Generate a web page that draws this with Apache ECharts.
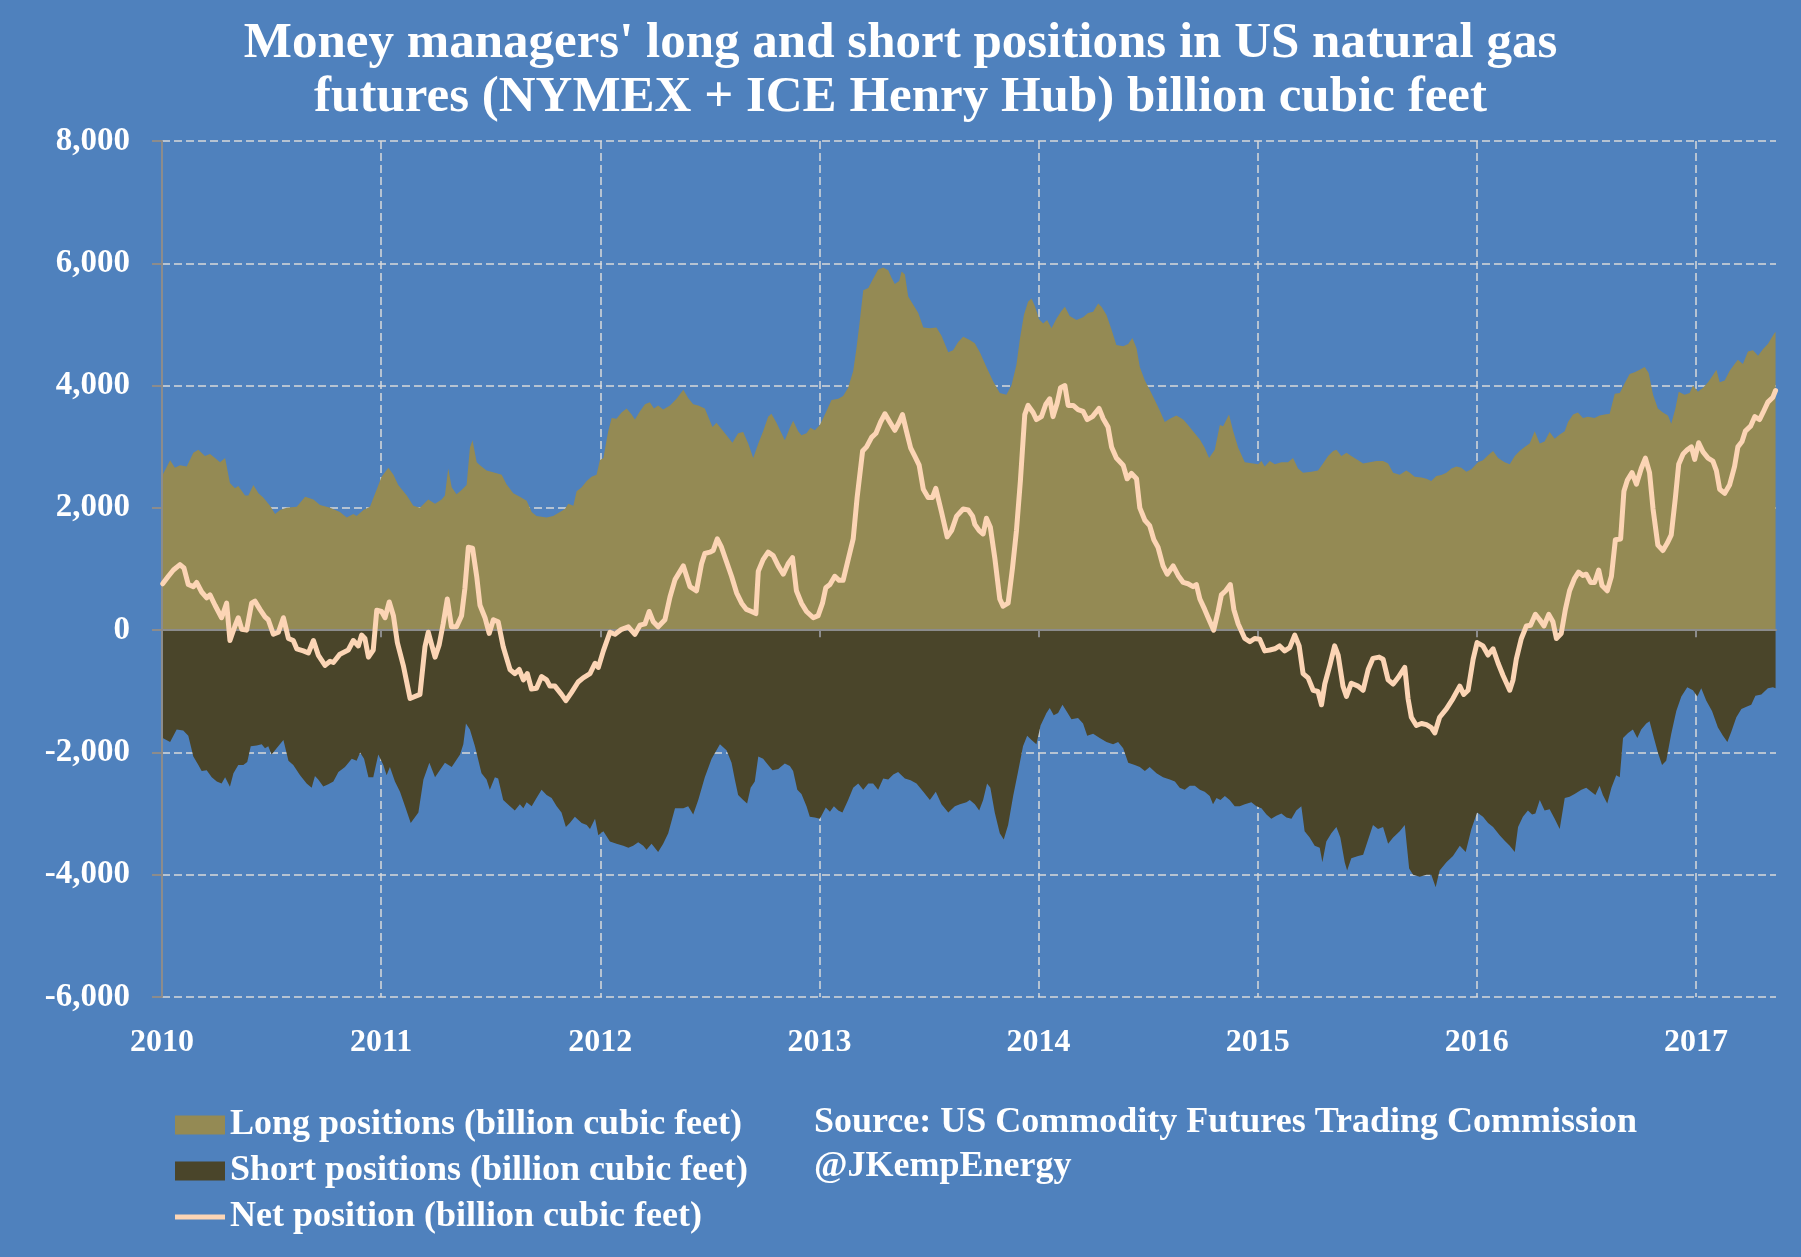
<!DOCTYPE html>
<html>
<head>
<meta charset="utf-8">
<script src="https://cdn.jsdelivr.net/npm/echarts@6/dist/echarts.min.js"></script>
<style>
html,body{margin:0;padding:0;background:#4F81BD;}
#chart{width:1801px;height:1257px;}
</style>
</head>
<body>
<div id="chart"></div>
<script>
const titleLines = [
  "Money managers' long and short positions in US natural gas",
  "futures (NYMEX + ICE Henry Hub) billion cubic feet"
];
const sourceLines = [
  "Source: US Commodity Futures Trading Commission",
  "@JKempEnergy"
];
const seriesNames = [
  "Long positions (billion cubic feet)",
  "Short positions (billion cubic feet)",
  "Net position (billion cubic feet)"
];
const yearTicks = [2010, 2011, 2012, 2013, 2014, 2015, 2016, 2017];
const yearTickLines = [2011, 2012, 2013, 2014, 2015, 2016, 2017];

const longPositions = [
[2010.003,2543],[2010.037,2780],[2010.059,2658],[2010.082,2698],[2010.113,2678],[2010.143,2902],[2010.166,2949],[2010.196,2848],[2010.219,2882],[2010.242,2814],[2010.265,2746],[2010.288,2814],[2010.310,2407],[2010.333,2319],[2010.348,2359],[2010.379,2204],[2010.394,2204],[2010.417,2373],[2010.440,2237],[2010.462,2170],[2010.493,2034],[2010.516,1898],[2010.539,1966],[2010.569,2000],[2010.615,2020],[2010.653,2183],[2010.691,2136],[2010.721,2048],[2010.767,2000],[2010.812,1932],[2010.843,1844],[2010.873,1898],[2010.888,1865],[2010.919,1966],[2010.949,2020],[2010.980,2305],[2011.002,2509],[2011.033,2658],[2011.056,2543],[2011.078,2373],[2011.117,2204],[2011.147,2034],[2011.177,2000],[2011.215,2136],[2011.246,2068],
[2011.276,2136],[2011.291,2204],[2011.306,2644],[2011.322,2339],[2011.344,2224],[2011.367,2292],[2011.390,2373],[2011.405,2983],[2011.417,3105],[2011.436,2746],[2011.451,2698],[2011.481,2610],[2011.519,2576],[2011.550,2543],[2011.572,2387],[2011.603,2237],[2011.633,2183],[2011.664,2115],[2011.687,1932],[2011.709,1865],[2011.755,1844],[2011.785,1865],[2011.816,1932],[2011.839,1980],[2011.854,2068],[2011.877,2034],[2011.892,2271],[2011.915,2339],[2011.938,2441],[2011.960,2509],[2011.983,2543],[2011.998,2780],[2012.014,2814],[2012.036,3254],[2012.052,3471],[2012.074,3458],[2012.097,3560],[2012.120,3627],[2012.143,3526],[2012.158,3444],[2012.181,3580],[2012.204,3695],[2012.226,3729],[2012.245,3627],[2012.264,3675],[2012.287,3607],[2012.318,3675],[2012.348,3783],[2012.379,3932],[2012.401,3797],[2012.424,3695],[2012.447,3675],[2012.477,3627],
[2012.512,3322],[2012.530,3390],[2012.553,3288],[2012.576,3187],[2012.603,3065],[2012.629,3221],[2012.652,3241],[2012.675,3051],[2012.698,2814],[2012.721,3051],[2012.743,3254],[2012.766,3492],[2012.781,3539],[2012.804,3390],[2012.842,3105],[2012.865,3309],[2012.880,3424],[2012.903,3254],[2012.918,3187],[2012.941,3221],[2012.959,3309],[2012.979,3268],[2013.002,3356],[2013.025,3526],[2013.055,3763],[2013.086,3783],[2013.108,3831],[2013.131,3966],[2013.154,4238],[2013.169,4610],[2013.185,5085],[2013.200,5560],[2013.223,5594],[2013.245,5749],[2013.268,5899],[2013.291,5933],[2013.314,5885],[2013.329,5763],[2013.344,5661],[2013.364,5709],[2013.375,5865],[2013.390,5817],[2013.405,5458],[2013.428,5322],[2013.451,5187],[2013.474,4949],[2013.504,4936],[2013.534,4949],[2013.557,4814],[2013.588,4543],[2013.610,4577],[2013.633,4712],[2013.656,4800],[2013.686,4746],[2013.709,4692],
[2013.732,4543],[2013.762,4305],[2013.793,4068],[2013.823,3878],[2013.853,3851],[2013.876,4000],[2013.899,4339],[2013.914,4746],[2013.933,5153],[2013.952,5370],[2013.968,5424],[2013.983,5302],[2014.002,5085],[2014.021,5017],[2014.039,5071],[2014.059,4936],[2014.082,5099],[2014.104,5221],[2014.120,5288],[2014.142,5139],[2014.173,5071],[2014.203,5119],[2014.226,5187],[2014.249,5207],[2014.272,5343],[2014.287,5288],[2014.310,5153],[2014.333,4915],[2014.355,4665],[2014.386,4644],[2014.409,4678],[2014.428,4780],[2014.447,4610],[2014.462,4305],[2014.485,4082],[2014.507,3932],[2014.530,3763],[2014.553,3593],[2014.576,3404],[2014.599,3458],[2014.629,3512],[2014.660,3444],[2014.682,3356],[2014.705,3254],[2014.736,3119],[2014.758,2983],[2014.778,2814],[2014.804,2949],[2014.827,3356],[2014.842,3336],[2014.869,3526],[2014.888,3254],[2014.911,2983],[2014.941,2746],
[2014.979,2726],[2015.002,2712],[2015.017,2766],[2015.032,2678],[2015.055,2766],[2015.078,2712],[2015.108,2746],[2015.138,2746],[2015.161,2814],[2015.184,2644],[2015.207,2576],[2015.245,2590],[2015.275,2610],[2015.298,2726],[2015.321,2848],[2015.344,2929],[2015.359,2949],[2015.382,2848],[2015.405,2902],[2015.427,2848],[2015.458,2780],[2015.481,2726],[2015.511,2746],[2015.542,2766],[2015.572,2766],[2015.595,2726],[2015.618,2576],[2015.648,2543],[2015.678,2610],[2015.694,2576],[2015.716,2509],[2015.747,2495],[2015.770,2475],[2015.792,2441],[2015.815,2522],[2015.838,2536],[2015.861,2576],[2015.884,2644],[2015.907,2678],[2015.929,2658],[2015.952,2590],[2015.975,2631],[2016.005,2746],[2016.028,2780],[2016.051,2861],[2016.074,2929],[2016.097,2814],[2016.127,2746],[2016.150,2712],[2016.173,2848],
[2016.195,2929],[2016.218,2997],[2016.241,3051],[2016.264,3254],[2016.287,3051],[2016.309,3085],[2016.332,3241],[2016.355,3132],[2016.378,3200],[2016.401,3254],[2016.416,3404],[2016.439,3526],[2016.461,3560],[2016.484,3471],[2016.507,3492],[2016.537,3471],[2016.560,3512],[2016.583,3526],[2016.606,3539],[2016.629,3865],[2016.652,3878],[2016.674,4034],[2016.697,4190],[2016.720,4217],[2016.743,4258],[2016.766,4305],[2016.784,4204],[2016.804,3851],[2016.826,3627],[2016.849,3560],[2016.872,3512],[2016.887,3376],[2016.906,3627],[2016.921,3899],[2016.948,3851],[2016.971,3878],[2016.986,4000],[2017.009,3899],[2017.032,3966],[2017.055,4054],[2017.077,4170],[2017.093,4258],[2017.108,4054],[2017.131,4082],[2017.153,4238],[2017.176,4353],[2017.191,4421],[2017.214,4353],[2017.237,4556],[2017.260,4577],[2017.283,4488],[2017.306,4597],[2017.328,4678],[2017.356,4848],[2017.363,4882]
];

const shortPositions = [
[2010.003,-1763],[2010.037,-1831],[2010.067,-1627],[2010.097,-1641],[2010.120,-1729],[2010.143,-2068],[2010.166,-2204],[2010.181,-2305],[2010.204,-2292],[2010.227,-2407],[2010.250,-2475],[2010.272,-2509],[2010.288,-2407],[2010.310,-2563],[2010.326,-2339],[2010.348,-2204],[2010.371,-2204],[2010.389,-2156],[2010.405,-1898],[2010.432,-1885],[2010.455,-1865],[2010.470,-1932],[2010.485,-1898],[2010.500,-2034],[2010.523,-1932],[2010.554,-1797],[2010.577,-2136],[2010.599,-2204],[2010.630,-2373],[2010.660,-2509],[2010.683,-2576],[2010.698,-2387],[2010.713,-2441],[2010.736,-2556],[2010.759,-2522],[2010.782,-2475],[2010.805,-2319],[2010.835,-2237],[2010.866,-2102],[2010.888,-2136],[2010.904,-2000],[2010.922,-2102],[2010.942,-2407],[2010.964,-2407],[2010.987,-2034],[2011.010,-2204],[2011.025,-2373],[2011.040,-2237],[2011.063,-2475],[2011.086,-2644],[2011.109,-2882],[2011.135,-3153],[2011.170,-2983],[2011.193,-2441],[2011.220,-2170],[2011.246,-2407],
[2011.291,-2170],[2011.322,-2237],[2011.360,-2034],[2011.375,-1865],[2011.387,-1526],[2011.405,-1627],[2011.428,-1898],[2011.458,-2339],[2011.481,-2441],[2011.496,-2610],[2011.519,-2407],[2011.534,-2427],[2011.557,-2780],[2011.588,-2882],[2011.610,-2949],[2011.633,-2848],[2011.649,-2915],[2011.664,-2814],[2011.687,-2882],[2011.709,-2746],[2011.732,-2610],[2011.755,-2698],[2011.778,-2746],[2011.801,-2882],[2011.823,-2983],[2011.843,-3221],[2011.861,-3153],[2011.884,-3051],[2011.915,-3153],[2011.938,-3187],[2011.953,-3254],[2011.976,-3085],[2011.991,-3356],[2012.014,-3288],[2012.044,-3458],[2012.074,-3492],[2012.105,-3526],[2012.128,-3560],[2012.150,-3526],[2012.173,-3471],[2012.196,-3526],[2012.211,-3593],[2012.234,-3492],[2012.264,-3627],[2012.287,-3492],[2012.310,-3322],[2012.341,-2915],[2012.379,-2915],[2012.401,-2882],[2012.424,-3017],[2012.447,-2780],[2012.477,-2407],
[2012.508,-2102],[2012.546,-1865],[2012.576,-1966],[2012.599,-2170],[2012.614,-2441],[2012.629,-2698],[2012.652,-2780],[2012.670,-2834],[2012.686,-2576],[2012.705,-2475],[2012.721,-2068],[2012.743,-2102],[2012.766,-2204],[2012.786,-2292],[2012.812,-2271],[2012.842,-2183],[2012.865,-2224],[2012.880,-2305],[2012.899,-2610],[2012.918,-2678],[2012.941,-2882],[2012.956,-3051],[2012.979,-3065],[2013.002,-3085],[2013.029,-2902],[2013.048,-2970],[2013.066,-2882],[2013.086,-2949],[2013.105,-2983],[2013.131,-2780],[2013.154,-2576],[2013.177,-2509],[2013.200,-2610],[2013.223,-2509],[2013.245,-2509],[2013.268,-2610],[2013.291,-2427],[2013.314,-2441],[2013.337,-2359],[2013.359,-2319],[2013.390,-2427],[2013.416,-2454],[2013.443,-2509],[2013.474,-2644],[2013.504,-2780],[2013.531,-2644],[2013.557,-2848],[2013.588,-2983],[2013.618,-2882],[2013.641,-2848],[2013.671,-2814],[2013.686,-2780],[2013.709,-2848],
[2013.729,-2949],[2013.747,-2780],[2013.765,-2509],[2013.780,-2576],[2013.800,-2983],[2013.823,-3322],[2013.841,-3424],[2013.861,-3187],[2013.884,-2712],[2013.907,-2305],[2013.929,-1898],[2013.948,-1729],[2013.968,-1797],[2013.990,-1865],[2014.009,-1559],[2014.036,-1356],[2014.051,-1275],[2014.069,-1390],[2014.089,-1356],[2014.109,-1220],[2014.127,-1322],[2014.150,-1458],[2014.180,-1437],[2014.203,-1526],[2014.222,-1729],[2014.249,-1695],[2014.279,-1763],[2014.310,-1831],[2014.340,-1865],[2014.363,-1831],[2014.386,-1932],[2014.409,-2170],[2014.439,-2204],[2014.462,-2237],[2014.485,-2305],[2014.507,-2237],[2014.538,-2339],[2014.568,-2407],[2014.599,-2441],[2014.622,-2475],[2014.644,-2576],[2014.667,-2610],[2014.690,-2543],[2014.713,-2543],[2014.736,-2610],[2014.758,-2644],[2014.781,-2712],[2014.796,-2848],[2014.812,-2746],[2014.830,-2780],[2014.850,-2712],[2014.872,-2780],[2014.895,-2882],[2014.918,-2882],[2014.941,-2848],
[2014.971,-2814],[2014.994,-2882],[2015.017,-2915],[2015.040,-3017],[2015.062,-3085],[2015.085,-3037],[2015.108,-2997],[2015.131,-3065],[2015.154,-3085],[2015.176,-2949],[2015.199,-2882],[2015.214,-3288],[2015.237,-3390],[2015.260,-3526],[2015.283,-3560],[2015.295,-3797],[2015.313,-3458],[2015.336,-3322],[2015.359,-3221],[2015.377,-3390],[2015.397,-3797],[2015.408,-3932],[2015.427,-3729],[2015.458,-3695],[2015.481,-3675],[2015.504,-3424],[2015.526,-3187],[2015.549,-3254],[2015.572,-3221],[2015.595,-3492],[2015.618,-3390],[2015.648,-3288],[2015.671,-3187],[2015.691,-3899],[2015.709,-4000],[2015.739,-4034],[2015.770,-4000],[2015.792,-4000],[2015.812,-4204],[2015.830,-3932],[2015.861,-3797],[2015.891,-3695],[2015.922,-3526],[2015.949,-3627],[2015.975,-3254],[2016.001,-2983],[2016.028,-3051],[2016.051,-3153],[2016.074,-3221],[2016.104,-3356],[2016.127,-3444],[2016.150,-3526],[2016.173,-3627],
[2016.188,-3221],[2016.210,-3051],[2016.233,-2949],[2016.252,-3017],[2016.267,-2997],[2016.287,-2780],[2016.309,-2949],[2016.332,-2929],[2016.355,-3085],[2016.378,-3254],[2016.401,-2746],[2016.423,-2726],[2016.446,-2678],[2016.477,-2610],[2016.499,-2576],[2016.522,-2644],[2016.541,-2698],[2016.560,-2543],[2016.575,-2698],[2016.595,-2834],[2016.614,-2576],[2016.636,-2373],[2016.652,-2407],[2016.667,-1763],[2016.690,-1681],[2016.712,-1627],[2016.732,-1763],[2016.750,-1627],[2016.773,-1526],[2016.788,-1492],[2016.808,-1763],[2016.826,-2000],[2016.845,-2204],[2016.864,-2136],[2016.887,-1695],[2016.910,-1322],[2016.933,-1085],[2016.960,-936],[2016.986,-983],[2017.006,-1085],[2017.024,-949],[2017.047,-1153],[2017.073,-1322],[2017.100,-1593],[2017.123,-1729],[2017.143,-1831],[2017.161,-1661],[2017.184,-1424],[2017.207,-1288],[2017.230,-1254],[2017.252,-1220],[2017.271,-1071],[2017.298,-1051],[2017.328,-949],[2017.351,-936],[2017.363,-949]
];

const netPosition = [
[2010.003,759],[2010.029,881],[2010.052,983],[2010.082,1071],[2010.100,1017],[2010.120,746],[2010.143,712],[2010.158,780],[2010.181,624],[2010.204,529],[2010.219,576],[2010.242,407],[2010.272,203],[2010.295,441],[2010.310,-170],[2010.333,68],[2010.348,203],[2010.364,14],[2010.386,0],[2010.409,441],[2010.424,475],[2010.447,339],[2010.470,217],[2010.485,170],[2010.508,-68],[2010.531,-34],[2010.554,203],[2010.577,-136],[2010.599,-170],[2010.615,-305],[2010.645,-339],[2010.668,-373],[2010.691,-170],[2010.713,-407],[2010.744,-576],[2010.767,-509],[2010.782,-529],[2010.812,-393],[2010.850,-325],[2010.873,-170],[2010.896,-258],[2010.911,-81],[2010.926,-136],[2010.942,-441],[2010.964,-325],[2010.980,325],[2011.002,305],[2011.018,203],[2011.037,461],[2011.056,237],[2011.074,-203],[2011.101,-576],[2011.132,-1119],[2011.177,-1051],[2011.200,-271],[2011.215,-34],[2011.246,-441],
[2011.265,-237],[2011.283,102],[2011.302,509],[2011.321,54],[2011.344,54],[2011.367,237],[2011.382,678],[2011.398,1356],[2011.417,1342],[2011.436,881],[2011.451,407],[2011.474,203],[2011.493,-54],[2011.512,170],[2011.534,136],[2011.557,-271],[2011.588,-644],[2011.610,-712],[2011.630,-644],[2011.649,-814],[2011.667,-712],[2011.686,-963],[2011.709,-949],[2011.732,-759],[2011.755,-814],[2011.770,-915],[2011.793,-915],[2011.823,-1051],[2011.843,-1153],[2011.869,-1017],[2011.899,-848],[2011.922,-780],[2011.953,-712],[2011.976,-542],[2011.991,-610],[2012.014,-339],[2012.044,-34],[2012.067,-68],[2012.097,14],[2012.128,54],[2012.158,-68],[2012.181,81],[2012.204,102],[2012.223,305],[2012.242,136],[2012.264,54],[2012.295,170],[2012.318,542],[2012.341,827],[2012.379,1051],[2012.409,712],[2012.439,644],[2012.462,1085],[2012.477,1254],
[2012.500,1275],[2012.515,1302],[2012.534,1492],[2012.553,1356],[2012.576,1119],[2012.599,881],[2012.622,610],[2012.645,441],[2012.667,339],[2012.690,305],[2012.710,271],[2012.721,963],[2012.743,1153],[2012.766,1275],[2012.789,1220],[2012.812,1051],[2012.835,915],[2012.857,1085],[2012.877,1187],[2012.895,644],[2012.918,441],[2012.941,305],[2012.972,203],[2012.994,237],[2013.014,441],[2013.029,692],[2013.048,746],[2013.070,881],[2013.090,814],[2013.108,814],[2013.131,1153],[2013.154,1492],[2013.172,2170],[2013.197,2929],[2013.215,2997],[2013.238,3153],[2013.258,3221],[2013.279,3404],[2013.299,3539],[2013.321,3404],[2013.344,3268],[2013.364,3404],[2013.379,3526],[2013.397,3254],[2013.416,2983],[2013.435,2848],[2013.455,2698],[2013.474,2305],[2013.496,2170],[2013.516,2170],[2013.531,2319],[2013.557,1932],[2013.583,1526],[2013.603,1627],[2013.626,1865],[2013.656,1980],[2013.679,1966],[2013.699,1865],[2013.709,1729],
[2013.729,1627],[2013.747,1573],[2013.762,1831],[2013.780,1681],[2013.800,1187],[2013.823,509],[2013.838,393],[2013.861,441],[2013.881,1017],[2013.899,1627],[2013.917,2441],[2013.937,3526],[2013.952,3675],[2013.975,3560],[2013.990,3444],[2014.013,3492],[2014.033,3695],[2014.051,3783],[2014.066,3492],[2014.085,3715],[2014.100,3966],[2014.120,4000],[2014.135,3675],[2014.158,3675],[2014.180,3607],[2014.203,3580],[2014.222,3444],[2014.246,3492],[2014.276,3627],[2014.295,3458],[2014.317,3322],[2014.333,2997],[2014.355,2814],[2014.386,2698],[2014.404,2475],[2014.424,2563],[2014.447,2475],[2014.462,2000],[2014.485,1797],[2014.507,1709],[2014.526,1478],[2014.545,1356],[2014.568,1051],[2014.587,915],[2014.614,1051],[2014.637,895],[2014.660,780],[2014.682,759],[2014.705,712],[2014.720,746],[2014.736,509],[2014.758,339],[2014.778,170],[2014.799,0],[2014.819,305],[2014.834,576],[2014.854,644],[2014.875,746],[2014.891,339],[2014.911,102],[2014.941,-136],
[2014.964,-190],[2014.986,-136],[2015.009,-149],[2015.032,-339],[2015.055,-325],[2015.078,-305],[2015.100,-258],[2015.123,-339],[2015.146,-285],[2015.169,-81],[2015.189,-258],[2015.207,-712],[2015.230,-780],[2015.253,-983],[2015.275,-1003],[2015.291,-1220],[2015.306,-881],[2015.329,-576],[2015.351,-258],[2015.367,-407],[2015.389,-915],[2015.405,-1085],[2015.427,-868],[2015.458,-915],[2015.481,-983],[2015.504,-644],[2015.526,-461],[2015.554,-441],[2015.572,-475],[2015.595,-814],[2015.618,-881],[2015.640,-780],[2015.671,-610],[2015.686,-1119],[2015.701,-1424],[2015.724,-1559],[2015.747,-1526],[2015.770,-1546],[2015.792,-1593],[2015.808,-1681],[2015.830,-1424],[2015.861,-1288],[2015.891,-1119],[2015.922,-915],[2015.940,-1051],[2015.960,-983],[2015.983,-475],[2016.001,-203],[2016.028,-258],[2016.051,-407],[2016.074,-305],[2016.097,-542],[2016.120,-746],[2016.150,-983],[2016.165,-814],
[2016.180,-475],[2016.203,-136],[2016.226,68],[2016.245,81],[2016.267,258],[2016.287,170],[2016.306,68],[2016.328,258],[2016.347,136],[2016.363,-136],[2016.385,-54],[2016.404,339],[2016.423,644],[2016.446,848],[2016.464,949],[2016.484,895],[2016.499,915],[2016.519,780],[2016.537,780],[2016.556,983],[2016.571,732],[2016.595,644],[2016.614,881],[2016.632,1478],[2016.656,1492],[2016.671,2271],[2016.687,2454],[2016.708,2576],[2016.728,2387],[2016.750,2644],[2016.769,2814],[2016.788,2576],[2016.804,1980],[2016.826,1390],[2016.849,1302],[2016.869,1424],[2016.887,1559],[2016.906,2170],[2016.921,2712],[2016.941,2882],[2016.960,2949],[2016.979,2997],[2016.994,2793],[2017.012,3065],[2017.032,2915],[2017.055,2814],[2017.077,2766],[2017.093,2610],[2017.108,2305],[2017.131,2237],[2017.153,2373],[2017.176,2678],[2017.191,2997],[2017.210,3085],[2017.225,3254],[2017.249,3336],[2017.268,3492],[2017.290,3444],[2017.306,3560],[2017.328,3729],[2017.351,3810],[2017.363,3919]
];

const FONT = "'Liberation Serif', 'Times New Roman', serif";
const X_MIN = 2010, X_MAX = 2017.365;
const Y_MIN = -6000, Y_MAX = 8000, Y_STEP = 2000;
const COL_LONG = '#948A54', COL_SHORT = '#4A452A', COL_NET = '#FCD5B5';
const COL_AXIS = '#8C8C8C', COL_GRID = '#D9D9D9';

const chart = echarts.init(document.getElementById('chart'), null, {renderer: 'canvas', width: 1801, height: 1257});

const option = {
  backgroundColor: '#4F81BD',
  animation: false,
  title: [
    {
      text: titleLines.join('\n'),
      left: 'center',
      top: 12,
      textStyle: {color: '#ffffff', fontFamily: FONT, fontWeight: 'bold', fontSize: 51, lineHeight: 54}
    },
    {
      text: sourceLines.join('\n'),
      left: 809,
      top: 1096,
      textStyle: {color: '#ffffff', fontFamily: FONT, fontWeight: 'bold', fontSize: 36, lineHeight: 44}
    }
  ],
  legend: {
    orient: 'vertical',
    left: 170,
    top: 1102,
    itemWidth: 50,
    itemHeight: 19,
    itemGap: 10,
    selectedMode: false,
    textStyle: {color: '#ffffff', fontFamily: FONT, fontWeight: 'bold', fontSize: 36, lineHeight: 36},
    data: [
      {name: seriesNames[0], icon: 'rect', itemStyle: {borderWidth: 0}},
      {name: seriesNames[1], icon: 'rect', itemStyle: {borderWidth: 0}},
      {name: seriesNames[2], icon: 'path://M0,0M50,19M0,7L50,7L50,12L0,12Z', itemStyle: {borderWidth: 0}}
    ]
  },
  grid: {left: 162, right: 25, top: 141, bottom: 260, containLabel: false},
  xAxis: [
    {
      type: 'value', min: X_MIN, max: X_MAX, position: 'bottom',
      axisLine: {show: false, onZero: false},
      axisTick: {show: false, customValues: yearTickLines},
      axisLabel: {
        customValues: yearTicks, color: '#ffffff', fontFamily: FONT, fontWeight: 'bold', fontSize: 32, margin: 30,
        formatter: v => String(Math.round(v))
      },
      splitLine: {show: true, lineStyle: {color: COL_GRID, width: 1.5, type: [8, 4]}}
    },
    {
      type: 'value', min: X_MIN, max: X_MAX, position: 'bottom', z: 3,
      axisLine: {show: true, onZero: true, lineStyle: {color: COL_AXIS, width: 2}},
      axisTick: {show: true, length: 7, customValues: yearTicks, lineStyle: {color: COL_AXIS, width: 2}},
      axisLabel: {show: false},
      splitLine: {show: false}
    }
  ],
  yAxis: [
    {
      type: 'value', min: Y_MIN, max: Y_MAX, interval: Y_STEP, position: 'left',
      axisLine: {show: false},
      axisTick: {show: true, length: 10, lineStyle: {color: COL_AXIS, width: 2}},
      axisLabel: {
        color: '#ffffff', fontFamily: FONT, fontWeight: 'bold', fontSize: 33, margin: 32,
        formatter: v => v.toLocaleString('en-US')
      },
      splitLine: {show: true, lineStyle: {color: COL_GRID, width: 1.5, type: [8, 4]}}
    },
    {
      type: 'value', min: Y_MIN, max: Y_MAX, interval: Y_STEP, position: 'left', z: 3,
      axisLine: {show: true, onZero: false, lineStyle: {color: COL_AXIS, width: 2}},
      axisTick: {show: false},
      axisLabel: {show: false},
      splitLine: {show: false}
    }
  ],
  series: [
    {
      name: seriesNames[0], type: 'line', xAxisIndex: 0, yAxisIndex: 0, z: 2,
      data: longPositions, symbol: 'none', showSymbol: false, silent: true,
      lineStyle: {width: 0, opacity: 0},
      itemStyle: {color: COL_LONG},
      areaStyle: {color: COL_LONG, opacity: 1}
    },
    {
      name: seriesNames[1], type: 'line', xAxisIndex: 0, yAxisIndex: 0, z: 2,
      data: shortPositions, symbol: 'none', showSymbol: false, silent: true,
      lineStyle: {width: 0, opacity: 0},
      itemStyle: {color: COL_SHORT},
      areaStyle: {color: COL_SHORT, opacity: 1}
    },
    {
      name: seriesNames[2], type: 'line', xAxisIndex: 0, yAxisIndex: 0, z: 4,
      data: netPosition, symbol: 'none', showSymbol: false, silent: true,
      lineStyle: {color: COL_NET, width: 5, join: 'round', cap: 'round'},
      itemStyle: {color: COL_NET}
    }
  ]
};
chart.setOption(option);
</script>
</body>
</html>
